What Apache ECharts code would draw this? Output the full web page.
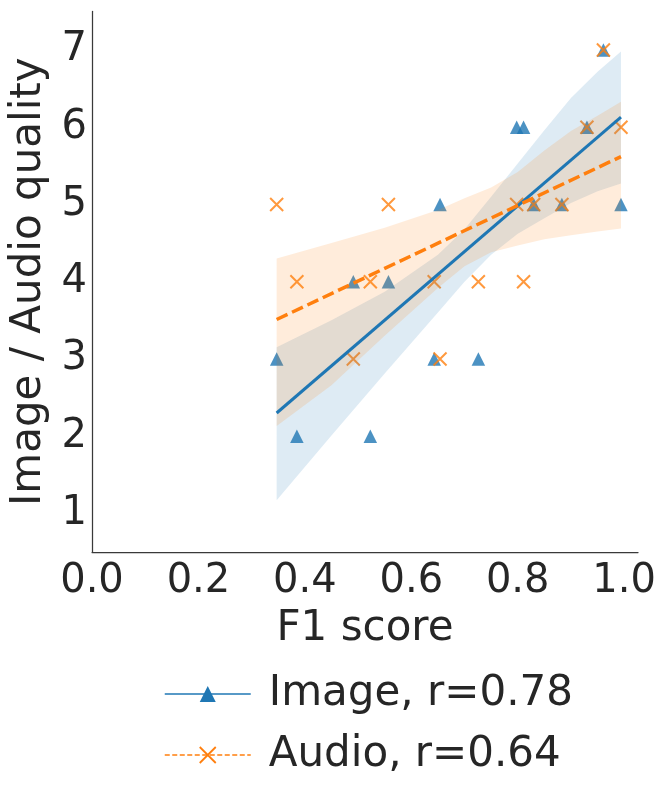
<!DOCTYPE html>
<html>
<head>
<meta charset="utf-8">
<script src="https://cdn.jsdelivr.net/npm/echarts@6/dist/echarts.min.js"></script>
<style>
html,body{margin:0;padding:0;background:#fff;}
#chart{width:667px;height:800px;}
</style>
</head>
<body>
<div id="chart"></div>
<script>
// ---- data ----
const f1Score      = [0.347, 0.385, 0.491, 0.523, 0.557, 0.643, 0.654, 0.726, 0.798, 0.811, 0.830, 0.883, 0.930, 0.961, 0.994];
const imageQuality = [3, 2, 4, 2, 4, 3, 5, 3, 6, 6, 5, 5, 6, 7, 5];
const audioQuality = [5, 4, 3, 4, 5, 4, 3, 4, 5, 4, 5, 5, 6, 7, 6];

// regression line end points
const fitX      = [0.347, 0.994];
const imageFitY = [2.30, 6.13];
const audioFitY = [3.51, 5.62];

// confidence bands
const bandX      = [0.347, 0.45, 0.55, 0.65, 0.70, 0.75, 0.80, 0.85, 0.90, 0.95, 0.994];
const imageUpper = [3.15, 3.50, 3.87, 4.35, 4.68, 5.10, 5.53, 5.96, 6.38, 6.72, 6.98];
const imageLower = [1.17, 2.01, 2.81, 3.60, 4.00, 4.35, 4.62, 4.82, 5.02, 5.17, 5.27];
const audioUpper = [4.30, 4.50, 4.70, 4.93, 5.08, 5.22, 5.42, 5.70, 5.95, 6.15, 6.33];
const audioLower = [2.13, 2.66, 3.30, 3.92, 4.20, 4.38, 4.47, 4.55, 4.60, 4.65, 4.69];

// ticks and labels
const xTicks = [0.0, 0.2, 0.4, 0.6, 0.8, 1.0];
const yTicks = [1, 2, 3, 4, 5, 6, 7];
const seriesNames = ['Image, r=0.78', 'Audio, r=0.64'];
const xAxisName = 'F1 score';
const yAxisName = 'Image / Audio quality';

// ---- chart ----
const FONT = 'DejaVu Sans';
const TXT = '#262626';
const BLUE = '#1f77b4';
const ORANGE = '#ff7f0e';
const XPATH = 'path://M0,0L10,10M10,0L0,10';

function pairs(xs, ys) { return xs.map((x, i) => [x, ys[i]]); }

function bandSeries(upper, lower, fill) {
  return {
    type: 'custom', z: 3, silent: true,
    data: [[bandX[0], lower[0]]],
    renderItem: function (params, api) {
      const pts = [];
      for (let i = 0; i < bandX.length; i++) pts.push(api.coord([bandX[i], upper[i]]));
      for (let i = bandX.length - 1; i >= 0; i--) pts.push(api.coord([bandX[i], lower[i]]));
      return { type: 'polygon', shape: { points: pts }, style: { fill: fill } };
    }
  };
}

const chart = echarts.init(document.getElementById('chart'), null, { renderer: 'canvas' });
chart.setOption({
  animation: false,
  backgroundColor: '#fff',
  grid: { left: 92, right: 29, top: 11.4, bottom: 248, containLabel: false },
  xAxis: {
    type: 'value', min: 0, max: 1.026,
    name: xAxisName, nameLocation: 'middle', nameGap: 56,
    nameTextStyle: { fontFamily: FONT, fontSize: 42, color: TXT },
    axisLine: { show: true, lineStyle: { color: '#3a3a3a', width: 1.25 } },
    axisTick: { show: false },
    splitLine: { show: false },
    axisLabel: {
      customValues: xTicks, margin: 10,
      fontFamily: FONT, fontSize: 40, color: TXT,
      formatter: v => Number(v).toFixed(1)
    }
  },
  yAxis: {
    type: 'value', min: 0.5, max: 7.5,
    name: yAxisName, nameLocation: 'middle', nameGap: 42,
    nameTextStyle: { fontFamily: FONT, fontSize: 42, color: TXT },
    axisLine: { show: true, lineStyle: { color: '#3a3a3a', width: 1.25 } },
    axisTick: { show: false },
    splitLine: { show: false },
    axisLabel: {
      customValues: yTicks, margin: 5,
      fontFamily: FONT, fontSize: 40, color: TXT,
      formatter: v => String(Math.round(v))
    }
  },
  legend: {
    orient: 'vertical', left: 159, top: 668,
    itemWidth: 86, itemHeight: 20, itemGap: 19,
    textStyle: { fontFamily: FONT, fontSize: 42, color: TXT, padding: [0, 0, 0, 13] },
    data: [
      { name: seriesNames[0], itemStyle: { color: BLUE, opacity: 1 }, lineStyle: { width: 1.5, color: BLUE } },
      { name: seriesNames[1], itemStyle: { color: 'none', borderColor: ORANGE, borderWidth: 1.8 },
        lineStyle: { width: 1.5, color: ORANGE, type: [5, 2.5] } }
    ]
  },
  series: [
    {
      name: seriesNames[0], type: 'line', z: 5, silent: true,
      data: pairs(fitX, imageFitY),
      symbol: 'triangle', showSymbol: false,
      itemStyle: { color: BLUE },
      lineStyle: { color: BLUE, width: 3 }
    },
    {
      name: seriesNames[1], type: 'line', z: 5, silent: true,
      data: pairs(fitX, audioFitY),
      symbol: XPATH, showSymbol: false,
      itemStyle: { color: 'none', borderColor: ORANGE, borderWidth: 2 },
      lineStyle: { color: ORANGE, width: 3.5, type: [12, 5] }
    },
    {
      name: 'image points', type: 'scatter', z: 2, silent: true,
      data: pairs(f1Score, imageQuality),
      symbol: 'triangle', symbolSize: 13.5,
      itemStyle: { color: BLUE, opacity: 0.8 }
    },
    {
      name: 'audio points', type: 'scatter', z: 2, silent: true,
      data: pairs(f1Score, audioQuality),
      symbol: XPATH, symbolSize: 13,
      itemStyle: { color: 'none', borderColor: ORANGE, borderWidth: 2, opacity: 0.8 }
    },
    bandSeries(imageUpper, imageLower, 'rgba(31,119,180,0.15)'),
    bandSeries(audioUpper, audioLower, 'rgba(255,127,14,0.15)')
  ]
});
</script>
</body>
</html>
